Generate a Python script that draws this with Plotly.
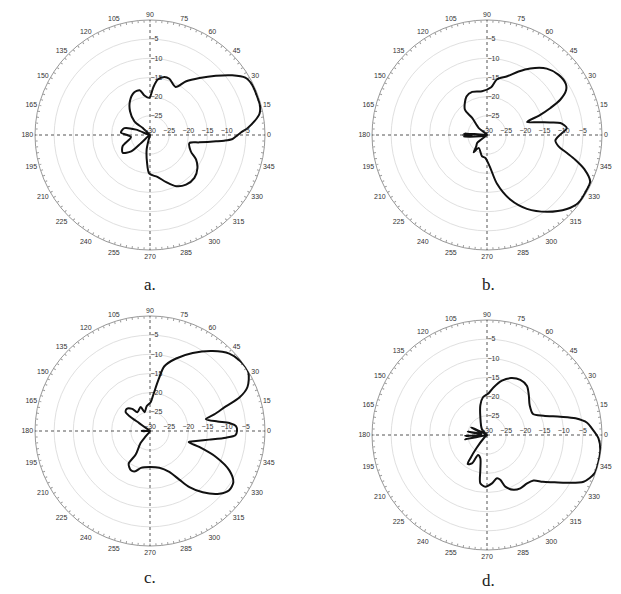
import plotly.graph_objects as go

# radiation patterns (angle in degrees, gain in dB)

theta_a = [120, 136, 139, 130, 121, 111, 103, 98, 91, 86, 82, 76, 71, 62, 56, 49, 42, 36, 31, 26,
           20, 15, 11, 7.5, 4, 1.7, -1, -3, -4.4, -5.5, -8.5, -11.5, -22, -28, -35, -44, -54, -63,
           -71, -80, -91, -96, -103, -106, -120, 222, 221, 213, 202, 186, 175, 165, 159, 150]
r_a = [-30, -27.4, -24.6, -21.9, -19.8, -18.2, -18.0, -19.6, -20.3, -17.5, -15.4, -14.4, -14.5,
       -15.8, -13.1, -10.3, -6.9, -3.5, -1.0, -0.3, -0.3, -0.3, -0.9, -2.5, -4.5, -6.2, -7.6, -8.6,
       -10.6, -12.7, -17.0, -19.5, -18.5, -16.4, -14.9, -13.9, -14.0, -15.0, -17.0, -18.9, -19.9,
       -22.7, -26.1, -28.7, -30, -26.9, -23.5, -21.5, -22.3, -25.0, -22.4, -23.1, -26.1, -30]

theta_b = [150, 140, 131, 131, 118, 109, 96.5, 85, 80, 71, 63.6, 57, 48, 40, 33, 29.5, 25.7, 23.1,
           20.5, 18, 14.2, 11.3, 9.3, 5, 0.3, -4.5, -9, -12.7, -15.6, -19.3, -24.2, -30, -36.3,
           -42.8, -52, -61.6, -70.2, -78.4, -85.1, -94.1, -103.2, -122.7, -127.6, -133.3, -141.3,
           -142.1, -150, 172, 176, 178, 180, 182, 184, 188]
r_b = [-30, -27.2, -24.1, -21.2, -18.6, -18.1, -18.5, -17.5, -15.3, -13.8, -11.5, -9.3, -6.7,
       -5.6, -5.5, -6.3, -8.8, -12.0, -15.5, -19.0, -16.5, -13.2, -10.6, -9.1, -10.9, -12.1,
       -11.1, -8.6, -6.1, -3.1, -0.5, -0.3, -0.3, -1.6, -4.6, -8.1, -12.1, -17.0, -21.8, -24.0,
       -24.3, -26.0, -24.3, -25.9, -26.7, -28.0, -30, -30, -24, -26, -23.8, -26, -24, -30]

theta_c = [210, 231, 232, 238.8, 236.9, 244.2, 250, 256.2, 270, 284.3, 295.2, 301.1, 305.1, 310.7,
           317.9, 323.2, 328.5, 333.6, 338.5, 342, 344.1, 347.7, 351.7, 355, 357.1, 0, 3.1, 5.8,
           8.1, 12.1, 14.5, 18, 20.5, 24.3, 30.9, 37.6, 44.3, 51.9, 61.3, 70.2, 77.5, 80.5, 84.8,
           88.7, 97.7, 106, 111.3, 124.2, 128.8, 136.7, 142.5, 143.9, 144, 143, 170, 178, 180, 182, 200]
r_c = [-30, -28.2, -26.0, -22.8, -19.8, -18.6, -18.8, -20.1, -20.6, -20.1, -18.2, -15.2, -12.1,
       -8.9, -5.6, -4.2, -4.5, -6.9, -11.5, -16.5, -19.5, -17.7, -14.4, -10.1, -7.7, -7.3, -7.5,
       -9.2, -12.2, -15.1, -12.7, -9.2, -5.1, -2.1, -0.1, -0.2, -1.1, -3.5, -6.8, -9.9, -12.7,
       -16.3, -20.5, -22.5, -23.5, -24.9, -23.3, -24.1, -22.6, -21.6, -22.0, -23.2, -26.5, -29.1,
       -30, -28.3, -27.8, -28.3, -30]

theta_d = [140, 131.4, 110, 102.5, 96.1, 87.7, 82, 74.6, 67.2, 58.8, 50.8, 43.8, 35.1, 24.5, 18.8,
           14, 10.7, 7, 3.6, -1.7, -7.5, -14, -19.5, -25.8, -31, -35, -40, -44.4, -50.4, -58, -64.1,
           -70.5, -73.5, -77, -84.1, -91.8, -97.9, -100.8, -106, -114.2, -117.9, -123.7, -125.5,
           -128.7, -135, -150, 197, 191, 187, 182.6, 178, 170, 163, 154.4, 150, 140]
r_d = [-30, -28.0, -24.9, -22.0, -20.1, -19.1, -17.4, -15.3, -13.9, -13.2, -13.5, -14.9, -16.4,
       -16.8, -14.4, -10.3, -6.5, -3.7, -2.6, -0.9, -0.2, -0.1, -0.2, -2.0, -5.8, -8.5, -11.0,
       -13.0, -13.6, -13.6, -14.1, -15.7, -17.8, -18.4, -17.3, -16.5, -17.3, -20.7, -23.7, -24.3,
       -21.6, -20.9, -22.5, -25.5, -28.8, -30, -30, -24.2, -28.5, -24.3, -28.5, -24.9, -28.5,
       -25.4, -28.8, -30]

labels = ['a.', 'b.', 'c.', 'd.']
ang_vals = list(range(0, 360, 3))
ang_text = [str(v) if v % 15 == 0 else '' for v in ang_vals]
ring_vals = [-25, -20, -15, -10, -5]
row_vals = [-30, -25, -20, -15, -10, -5]

# the page has an 8px body margin, so the figure is drawn 8px in from the window corner
OFF = 8
W, H = 621 - OFF, 594 - OFF
R = 115
centers = [(150, 135), (487, 135), (150, 431), (487, 435)]
label_pos = [(150, 284), (489, 284), (150, 577), (489, 580)]
data = [(theta_a, r_a), (theta_b, r_b), (theta_c, r_c), (theta_d, r_d)]

tick_font = dict(size=7, color='#333', family='Liberation Sans')

fig = go.Figure()
layout = {}
annotations = []
for i, ((cx, cy), (th, rr)) in enumerate(zip(centers, data)):
    cx, cy = cx - OFF, cy - OFF
    dom = dict(x=[(cx - R) / W, (cx + R) / W], y=[1 - (cy + R) / H, 1 - (cy - R) / H])
    base = 'polar' if i == 0 else 'polar%d' % (2 * i + 1)
    over = 'polar%d' % (2 * i + 2)
    layout[base] = dict(
        domain=dom, bgcolor='white',
        angularaxis=dict(tickmode='array', tickvals=ang_vals, ticktext=ang_text,
                         ticks='inside', ticklen=2, tickcolor='#999', tickwidth=0.6,
                         showgrid=False, showline=True, linecolor='#999', linewidth=1,
                         tickfont=tick_font, direction='counterclockwise', rotation=0),
        radialaxis=dict(range=[-30, 0], angle=90, side='clockwise', tickangle=90,
                        tickmode='array', tickvals=ring_vals, ticks='', showline=False,
                        gridcolor='#e0e0e0', gridwidth=1, tickfont=tick_font))
    layout[over] = dict(
        domain=dom, bgcolor='rgba(0,0,0,0)',
        angularaxis=dict(tickmode='array', tickvals=[0, 90, 180, 270], showticklabels=False,
                         ticks='', showline=False, showgrid=True, griddash='dot',
                         gridcolor='#555', gridwidth=1.2,
                         direction='counterclockwise', rotation=0),
        radialaxis=dict(range=[-30, 0], angle=0, side='counterclockwise',
                        tickmode='array', tickvals=row_vals, ticks='', showline=False,
                        showgrid=False, tickfont=tick_font))
    # empty trace so the base (grid) subplot gets drawn
    fig.add_trace(go.Scatterpolar(theta=[0], r=[None], mode='lines', subplot=base,
                                  showlegend=False, hoverinfo='skip'))
    fig.add_trace(go.Scatterpolar(theta=th, r=rr, mode='lines', subplot=over,
                                  line=dict(color='#111', width=2, shape='spline', smoothing=0.8),
                                  showlegend=False, hoverinfo='skip'))
    lx, ly = label_pos[i]
    annotations.append(dict(x=(lx - OFF) / W, y=1 - (ly - OFF) / H, xref='paper', yref='paper',
                            xanchor='center', yanchor='middle',
                            text=labels[i], showarrow=False,
                            font=dict(family='Liberation Serif', size=17, color='#222')))

fig.update_layout(**layout)
fig.update_layout(
    annotations=annotations,
    width=W, height=H,
    margin=dict(l=0, r=0, t=0, b=0),
    paper_bgcolor='white',
    showlegend=False,
)

fig.write_html("out.html")
